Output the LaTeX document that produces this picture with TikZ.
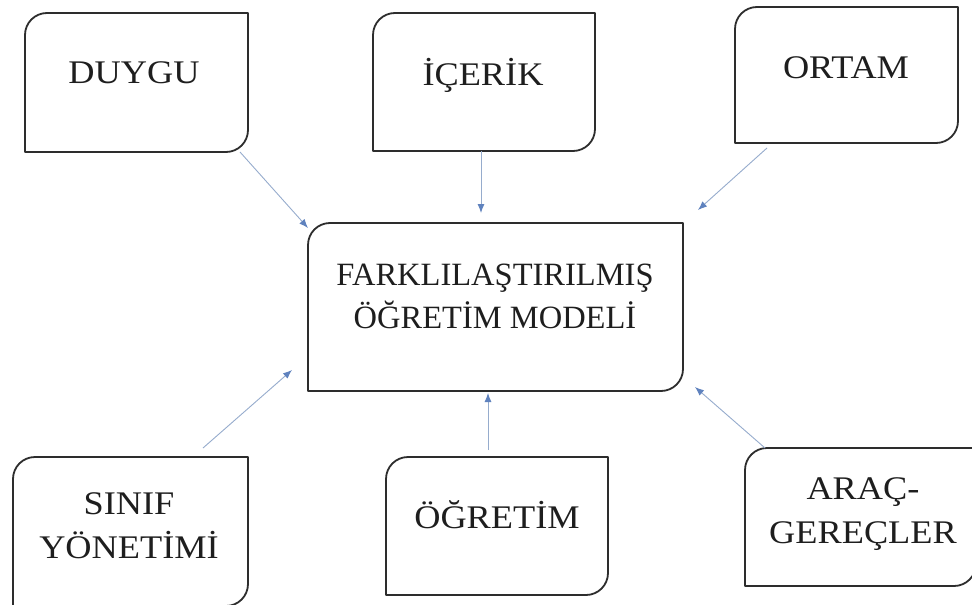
\documentclass[tikz,border=0pt]{standalone}
\usepackage{fontspec}
\setmainfont{Liberation Serif}
\newfontfamily\widefont[FakeStretch=1.1]{Liberation Serif}
\usetikzlibrary{arrows.meta}
\definecolor{boxc}{RGB}{45,45,45}
\definecolor{arrc}{RGB}{150,172,205}
\definecolor{tipc}{RGB}{95,130,190}
\definecolor{txtc}{RGB}{30,30,30}
\tikzset{
  boxshape/.style={inner sep=0pt, outer sep=0pt},
  lbl/.style={inner sep=0pt, anchor=base, align=center, text=txtc,
    font=\widefont\fontsize{33}{44}\selectfont},
  mlbl/.style={lbl, font=\fontsize{32.5}{43}\selectfont},
  arr/.style={draw=arrc, line width=0.9pt,
    -{Latex[length=9pt,width=7pt,fill=tipc,color=tipc]}},
  boxline/.style={draw=boxc, line width=1.8pt, line join=round}
}
\newcommand\tlbrbox[1]{%
  \draw[boxline] (#1.north) -- (#1.north east) -- (#1.east)
    [rounded corners=22pt] -- (#1.south east) -- (#1.south)
    [sharp corners] -- (#1.south west) -- (#1.west)
    [rounded corners=22pt] -- (#1.north west) -- (#1.north);}
\begin{document}
\begin{tikzpicture}[x=1pt,y=-1pt]
\clip (0,0) rectangle (972,605);
\fill[white] (0,0) rectangle (972,605);
% boxes
\node[boxshape, minimum width=223pt, minimum height=139pt] (duygu) at (136.5,82.5) {};
\node[boxshape, minimum width=222pt, minimum height=138pt] (icerik) at (484,82) {};
\node[boxshape, minimum width=223pt, minimum height=136pt] (ortam) at (846.5,75) {};
\node[boxshape, minimum width=375pt, minimum height=168pt] (model) at (495.5,307) {};
\node[boxshape, minimum width=235pt, minimum height=149pt] (sinif) at (130.5,531.5) {};
\node[boxshape, minimum width=222pt, minimum height=138pt] (ogretim) at (497,526) {};
\node[boxshape, minimum width=231pt, minimum height=138pt] (arac) at (860.5,517) {};
\tlbrbox{duygu}
\tlbrbox{icerik}
\tlbrbox{ortam}
\tlbrbox{model}
\tlbrbox{sinif}
\tlbrbox{ogretim}
\tlbrbox{arac}
% labels
\node[lbl] (tduygu) at (134,83) {DUYGU};
\node[lbl] (ticerik) at (483,85) {İÇERİK};
\node[lbl] (tortam) at (846,78) {ORTAM};
\node[mlbl] (tmodel) at (495,328) {FARKLILAŞTIRILMIŞ\\ÖĞRETİM MODELİ};
\node[lbl] (tsinif) at (129,558) {SINIF\\YÖNETİMİ};
\node[lbl] (togretim) at (497,528) {ÖĞRETİM};
\node[lbl] (tarac) at (863,543) {ARAÇ-\\GEREÇLER};
% arrows
\draw[arr] ([xshift=-8pt]duygu.south east) -- ([yshift=-5pt]model.north west);
\draw[arr] ([xshift=-3pt]icerik.south) -- ([xshift=-14.5pt,yshift=10pt]model.north);
\draw[arr] ([xshift=32pt,yshift=-5pt]ortam.south west) -- ([xshift=15pt,yshift=13pt]model.north east);
\draw[arr] ([xshift=-45pt,yshift=9pt]sinif.north east) -- ([xshift=-16pt,yshift=21pt]model.south west);
\draw[arr] ([xshift=-9pt,yshift=7pt]ogretim.north) -- ([xshift=-7.5pt,yshift=-2pt]model.south);
\draw[arr] ([xshift=20pt]arac.north west) -- ([xshift=12pt,yshift=4pt]model.south east);
\end{tikzpicture}
\end{document}
